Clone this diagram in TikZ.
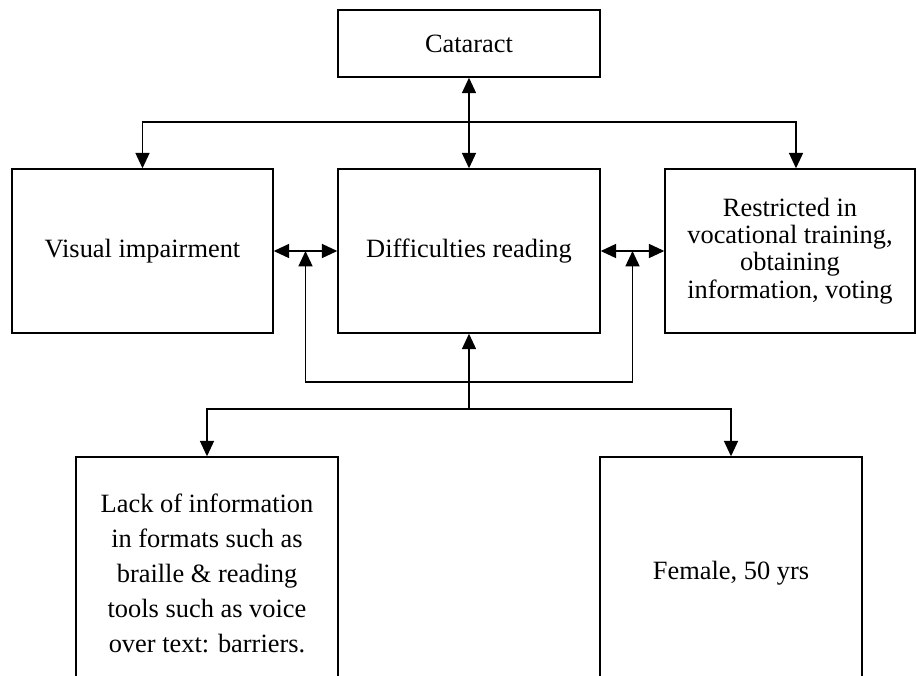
\documentclass[tikz,border=0pt]{standalone}
\usepackage{fontspec}
\setmainfont{Liberation Serif}
\usepackage{tikz}
\usetikzlibrary{arrows.meta}

\begin{document}
\begin{tikzpicture}[x=0.75pt,y=0.75pt,yscale=-1,xscale=1,
  line width=1.1pt,
  >={Triangle[length=11.5pt,width=10.5pt]},
  box/.style={draw, line width=1.1pt, inner sep=0pt, align=center,
    minimum width=196.5pt, minimum height=123pt,
    font=\fontsize{19.8}{20.4}\selectfont}]
%set diagram at 917 x 675, lower boxes run off the bottom
\clip (0,0) rectangle (917,675);

%Shape: Rectangle
\node [box, minimum height=50.25pt] (cat) at (469,43.5) {Cataract};
%Shape: Rectangle
\node [box, minimum width=195.75pt] (vis) at (142.5,251) {Visual impairment};
%Shape: Rectangle
\node [box] (read) at (469,251) {Difficulties reading};
%Shape: Rectangle
\node [box, minimum width=187.5pt] (restr) at (790,251) {Restricted in\\ vocational training,\\ obtaining\\ information, voting};
%Shape: Rectangle
\node [box, minimum height=174.75pt, font=\fontsize{19.8}{26.25}\selectfont] (lack) at (207,573.5) {Lack of information\\ in formats such as\\ braille \& reading\\ tools such as voice\\ over text: barriers.};
%Shape: Rectangle
\node [box, minimum height=174.75pt] (fem) at (731,573.5) {Female, 50 yrs};

%junctions
\coordinate (topbus) at (469,122);
\coordinate (jl) at (305.5,251);
\coordinate (jr) at (632.5,251);
\coordinate (lowbus) at (469,382);
\coordinate (botbus) at (469,409);

%Shape: Boxed Line
\draw [<->] (cat) -- (read);
\draw [->] (topbus) -| (vis.north);
\draw [->] (topbus) -| ([xshift=4.5pt]restr.north);
%Shape: Boxed Line
\draw [<->] (vis) -- (read);
\draw [<->] (read) -- (restr);
%Shape: Boxed Line
\draw [->] (lowbus) -- (read);
\draw [->] (lowbus) -| (jl);
\draw [->] (lowbus) -| (jr);
%Shape: Boxed Line
\draw (lowbus) -- (botbus);
\draw [->] (botbus) -| (lack);
\draw [->] (botbus) -| (fem);

\end{tikzpicture}
\end{document}
